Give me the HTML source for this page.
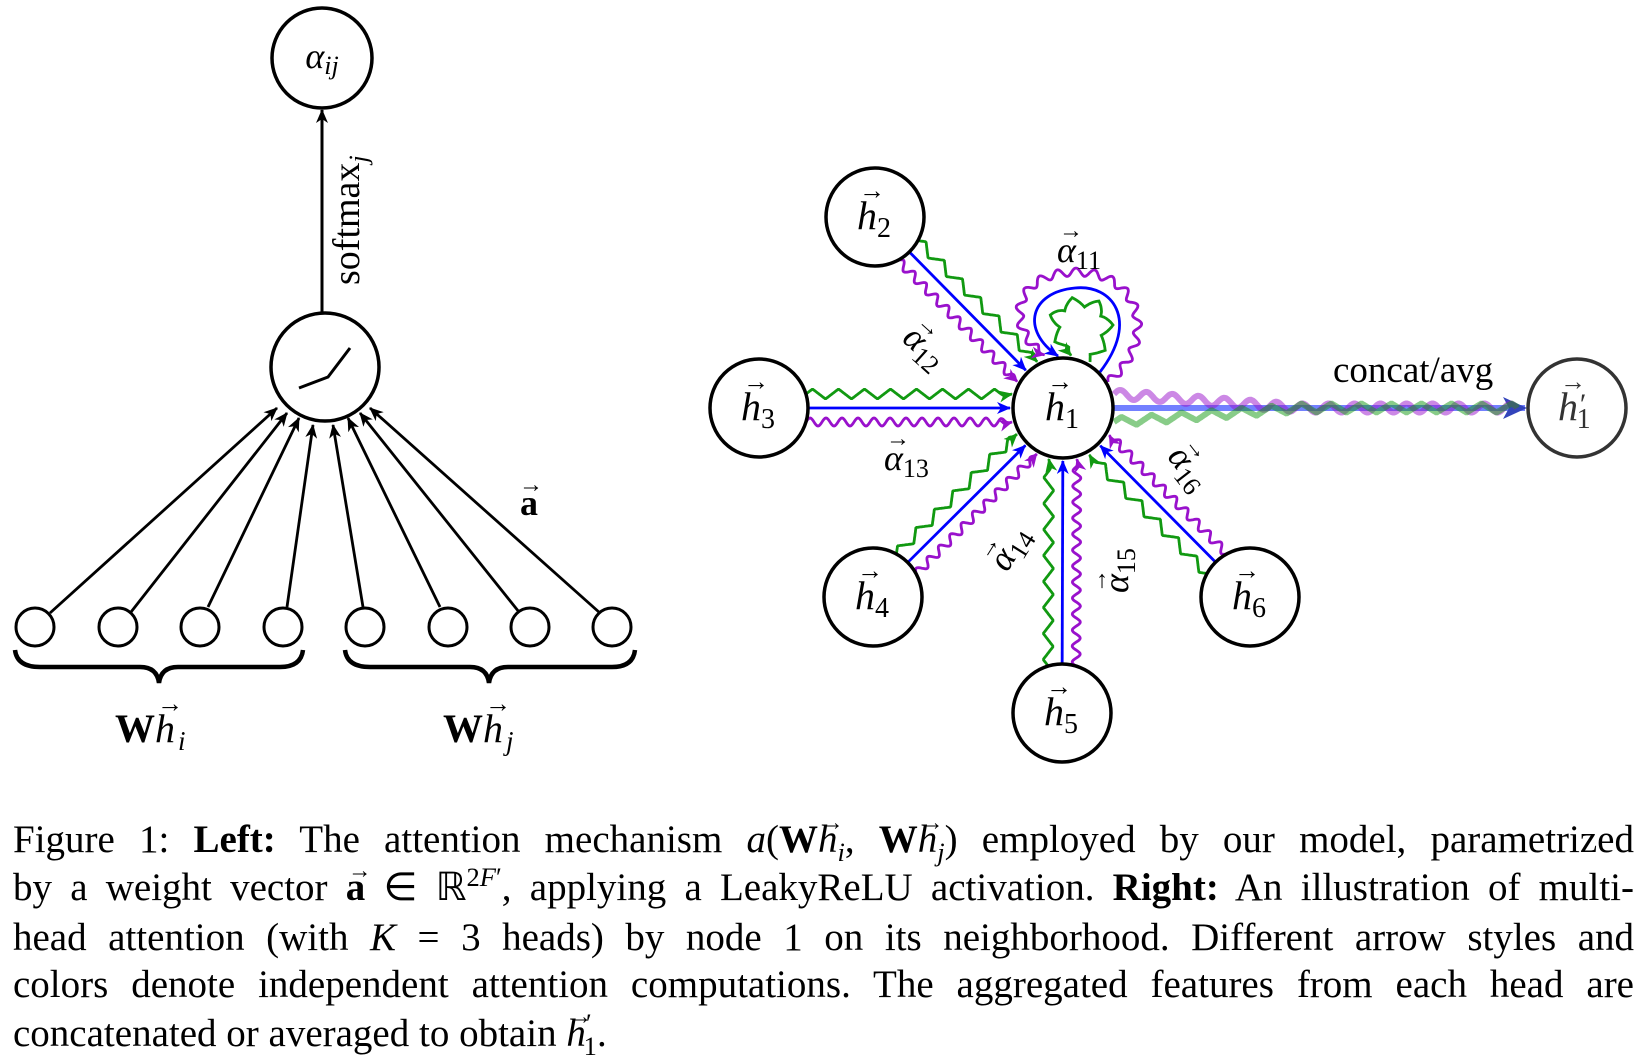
<!DOCTYPE html>
<html><head><meta charset="utf-8">
<style>
html,body{margin:0;padding:0;background:#fff;}
body{width:1643px;height:1062px;overflow:hidden;position:relative;font-family:"Liberation Serif",serif;}
svg{position:absolute;left:0;top:0;}
.cap{position:absolute;left:13px;width:1621px;font-size:39px;line-height:44px;white-space:nowrap;text-align:justify;text-align-last:justify;color:#000;}
.cap.last{text-align-last:left;}
i{font-style:italic}
.v{position:relative;display:inline-block;}
.v .ar{position:absolute;left:0.1em;top:-0.72em;font-size:0.6em;font-style:normal;}
sub,sup{font-size:0.68em;line-height:0;}
</style></head><body>
<svg id="s" width="1643" height="1062" viewBox="0 0 1643 1062" xmlns="http://www.w3.org/2000/svg" font-family="Liberation Serif, serif">
<defs>
<marker id="mk" markerUnits="userSpaceOnUse" markerWidth="16" markerHeight="14" refX="13" refY="6" orient="auto"><path d="M0,0 L14,6 L0,12 L4,6 z" fill="#000"/></marker>
<marker id="mb" markerUnits="userSpaceOnUse" markerWidth="16" markerHeight="14" refX="13" refY="6" orient="auto"><path d="M0,0 L14,6 L0,12 L4,6 z" fill="#0000ff"/></marker>
<marker id="mg" markerUnits="userSpaceOnUse" markerWidth="16" markerHeight="14" refX="13" refY="6" orient="auto"><path d="M0,0 L14,6 L0,12 L4,6 z" fill="#119911"/></marker>
<marker id="mp" markerUnits="userSpaceOnUse" markerWidth="16" markerHeight="14" refX="13" refY="6" orient="auto"><path d="M0,0 L14,6 L0,12 L4,6 z" fill="#9911cc"/></marker>
<marker id="mo" markerUnits="userSpaceOnUse" markerWidth="28" markerHeight="24" refX="22" refY="11" orient="auto"><path d="M0,0 L24,11 L0,22 L6,11 z" fill="#3344bb"/></marker>
</defs>
<g stroke="#000" stroke-width="3.5" fill="none">
<circle cx="322" cy="58" r="50"/>
<circle cx="325" cy="367" r="54"/>
<polyline points="299,388 328,377 350,348" stroke-width="3"/>
<line x1="322" y1="313" x2="322" y2="110" marker-end="url(#mk)" stroke-width="3"/>
<g stroke-width="2.8" marker-end="url(#mk)">
<line x1="50" y1="613" x2="277" y2="408"/>
<line x1="131" y1="612" x2="287" y2="413"/>
<line x1="208" y1="607" x2="299" y2="418"/>
<line x1="287" y1="607" x2="313" y2="425"/>
<line x1="363" y1="607" x2="333" y2="425"/>
<line x1="440" y1="607" x2="348" y2="418"/>
<line x1="519" y1="612" x2="360" y2="413"/>
<line x1="600" y1="613" x2="370" y2="408"/>
</g>
<g stroke-width="3">
<circle cx="35" cy="627" r="19"/><circle cx="118" cy="627" r="19"/><circle cx="200" cy="627" r="19"/><circle cx="283" cy="627" r="19"/>
<circle cx="365" cy="627" r="19"/><circle cx="448" cy="627" r="19"/><circle cx="530" cy="627" r="19"/><circle cx="612" cy="627" r="19"/>
</g>
<path d="M15,650 Q17,667 40,667 L140,667 Q157,667 159,683 Q161,667 178,667 L280,667 Q301,667 303,650" stroke-width="4.5"/>
<path d="M345,650 Q347,667 370,667 L470,667 Q487,667 489,683 Q491,667 508,667 L612,667 Q633,667 635,650" stroke-width="4.5"/>
</g>
<text x="322" y="68" font-size="36" text-anchor="middle" font-style="italic">α<tspan font-size="26" dy="6">ij</tspan></text>
<text transform="translate(359,285) rotate(-90)" font-size="38">softmax<tspan font-size="26" font-style="italic" dy="8">j</tspan></text>
<text x="529" y="515" font-size="36" font-weight="bold" text-anchor="middle">a</text>
<text x="531" y="492" font-size="24" text-anchor="middle">→</text>
<text x="115" y="742" font-size="40" font-weight="bold">W</text><text x="155" y="742" font-size="40" font-style="italic">h</text><text x="178" y="750" font-size="27" font-style="italic">i</text><text x="157" y="712" font-size="26">→</text>
<text x="443" y="742" font-size="40" font-weight="bold">W</text><text x="483" y="742" font-size="40" font-style="italic">h</text><text x="506" y="750" font-size="27" font-style="italic">j</text><text x="485" y="712" font-size="26">→</text>

<g id="edges" fill="none"></g>

<g stroke="#000" stroke-width="3.5" fill="#fff">
<circle cx="1063" cy="408" r="50"/>
<circle cx="875" cy="217" r="49"/>
<circle cx="759" cy="408" r="49"/>
<circle cx="873" cy="597" r="49"/>
<circle cx="1062" cy="713" r="49"/>
<circle cx="1250" cy="597" r="49"/>
<circle cx="1577" cy="408" r="49" stroke="#333"/>
</g>
<g font-size="40" font-style="italic">
<text x="1045" y="420">h<tspan font-size="28" font-style="normal" dy="8">1</tspan></text><text x="1047" y="390" font-size="26" font-style="normal">→</text>
<text x="857" y="229">h<tspan font-size="28" font-style="normal" dy="8">2</tspan></text><text x="859" y="199" font-size="26" font-style="normal">→</text>
<text x="741" y="420">h<tspan font-size="28" font-style="normal" dy="8">3</tspan></text><text x="743" y="390" font-size="26" font-style="normal">→</text>
<text x="855" y="609">h<tspan font-size="28" font-style="normal" dy="8">4</tspan></text><text x="857" y="579" font-size="26" font-style="normal">→</text>
<text x="1044" y="725">h<tspan font-size="28" font-style="normal" dy="8">5</tspan></text><text x="1046" y="695" font-size="26" font-style="normal">→</text>
<text x="1232" y="609">h<tspan font-size="28" font-style="normal" dy="8">6</tspan></text><text x="1234" y="579" font-size="26" font-style="normal">→</text>
<text x="1558" y="420" fill="#333">h<tspan font-size="30" dy="-6">′</tspan><tspan font-size="28" font-style="normal" dx="-8" dy="14">1</tspan></text><text x="1560" y="390" font-size="26" font-style="normal" fill="#333">→</text>
</g>
<g font-size="36" font-style="italic">
<text x="1057" y="262">α<tspan font-size="26" font-style="normal" dy="7">11</tspan></text><text x="1059" y="238" font-size="24" font-style="normal">→</text>
<g transform="translate(927,353) rotate(42)"><text x="-28" y="8">α<tspan font-size="26" font-style="normal" dy="7">12</tspan></text><text x="-28" y="-14" font-size="24" font-style="normal">→</text></g>
<text x="884" y="470">α<tspan font-size="26" font-style="normal" dy="7">13</tspan></text><text x="886" y="446" font-size="24" font-style="normal">→</text>
<g transform="translate(1015,545) rotate(-58)"><text x="-28" y="8">α<tspan font-size="26" font-style="normal" dy="7">14</tspan></text><text x="-28" y="-14" font-size="24" font-style="normal">→</text></g>
<g transform="translate(1120,565) rotate(-90)"><text x="-28" y="8">α<tspan font-size="26" font-style="normal" dy="7">15</tspan></text><text x="-28" y="-14" font-size="24" font-style="normal">→</text></g>
<g transform="translate(1190,474) rotate(52)"><text x="-28" y="8">α<tspan font-size="26" font-style="normal" dy="7">16</tspan></text><text x="-28" y="-14" font-size="24" font-style="normal">→</text></g>
</g>
<text x="1333" y="382" font-size="37">concat/avg</text>
</svg>

<div class="cap" style="top:818px">Figure 1: <b>Left:</b> The attention mechanism <i>a</i>(<b>W</b><span class="v"><i>h</i><span class="ar">→</span></span><sub><i>i</i></sub>, <b>W</b><span class="v"><i>h</i><span class="ar">→</span></span><sub><i>j</i></sub>) employed by our model, parametrized</div>
<div class="cap" style="top:866px">by a weight vector <span class="v"><b>a</b><span class="ar">→</span></span> ∈ ℝ<sup>2<i>F</i>′</sup>, applying a LeakyReLU activation. <b>Right:</b> An illustration of multi-</div>
<div class="cap" style="top:916px">head attention (with <i>K</i> = 3 heads) by node 1 on its neighborhood. Different arrow styles and</div>
<div class="cap" style="top:963px">colors denote independent attention computations. The aggregated features from each head are</div>
<div class="cap last" style="top:1012px">concatenated or averaged to obtain <span class="v"><i>h</i><span class="ar">→</span></span><sup>′</sup><sub style="margin-left:-0.3em">1</sub>.</div>

<script>
(function(){
var NS="http://www.w3.org/2000/svg";
var G=document.getElementById("edges");
var tmp=document.createElementNS(NS,"path");
document.getElementById("s").appendChild(tmp);
function wavy(d,type,amp,wl,offFn,stop){
  tmp.setAttribute("d",d);
  var L=tmp.getTotalLength(),pts=[];
  var endFlat=stop||12;
  for(var s=0;s<=L;s+=1){
    var p=tmp.getPointAtLength(s),q=tmp.getPointAtLength(Math.min(L,s+0.5)),r=tmp.getPointAtLength(Math.max(0,s-0.5));
    var dx=q.x-r.x,dy=q.y-r.y,n=Math.hypot(dx,dy)||1;
    var nx=dy/n,ny=-dx/n;
    var ph=s/wl,f=0;
    if(type=="z"){var t=ph-Math.floor(ph);f=t<0.25?4*t:(t<0.75?2-4*t:4*t-4);}
    else if(type=="s"){f=Math.sin(ph*2*Math.PI);}
    var a=amp;if(L-s<endFlat)a=amp*(L-s)/endFlat;
    var o=(offFn?offFn(s/L):0)+a*f;
    pts.push((p.x+nx*o).toFixed(1)+","+(p.y+ny*o).toFixed(1));
  }
  return "M"+pts.join(" L");
}
function add(d,col,mk,w,op){
  var e=document.createElementNS(NS,"path");
  e.setAttribute("d",d);e.setAttribute("stroke",col);e.setAttribute("stroke-width",w||2.8);
  e.setAttribute("fill","none");if(mk)e.setAttribute("marker-end","url(#"+mk+")");
  if(op)e.setAttribute("stroke-opacity",op);
  G.appendChild(e);
}
var C=[1063,408],R=50;
var Ns=[[875,217],[759,408],[873,597],[1062,713],[1250,597]];
Ns.forEach(function(N){
  var dx=C[0]-N[0],dy=C[1]-N[1],l=Math.hypot(dx,dy),ux=dx/l,uy=dy/l;
  var lx=uy,ly=-ux;
  var off=14;
  [[0,"#0000ff","mb","n"],[off,"#119911","mg","z"],[-off,"#9911cc","mp","s"]].forEach(function(c){
    var o=c[0];
    var er=Math.sqrt(R*R-o*o)+3;
    var sx=N[0]+ux*Math.sqrt(49*49-o*o)+lx*o, sy=N[1]+uy*Math.sqrt(49*49-o*o)+ly*o;
    var ex=C[0]-ux*er+lx*o, ey=C[1]-uy*er+ly*o;
    var d="M"+sx+","+sy+" L"+ex+","+ey;
    if(c[3]=="n")add(d,c[1],c[2]);
    else add(wavy(d,c[3],c[3]=="z"?5:4,c[3]=="z"?26:16),c[1],c[2]);
  });
});
add("M1100,372 C1140,320 1112,284 1075,288 C1030,292 1020,330 1058,356","#0000ff","mb");
add(wavy("M1108,382 C1160,340 1140,272 1077,272 C1010,272 1005,330 1045,355","s",4,18),"#9911cc","mp");
add(wavy("M1090,362 C1120,330 1110,300 1078,302 C1045,304 1050,335 1072,356","z",5,24),"#119911","mg");
var ox1=1114,ox2=1525;
add("M"+ox1+",408 L"+ox2+",408","#4455ff","mo",6,0.75);
add(wavy("M"+ox1+",408 L"+(ox2-8)+",408","s",4.5,26,function(t){var x=t*(ox2-ox1);return x<190?14*(1-x/190):0;},1),"#9911cc",null,6,0.5);
add(wavy("M"+ox1+",408 L"+(ox2-8)+",408","z",4.5,30,function(t){var x=t*(ox2-ox1);return x<190?-14*(1-x/190):0;},1),"#119911",null,6,0.5);
tmp.remove();
})();
</script>
</body></html>
